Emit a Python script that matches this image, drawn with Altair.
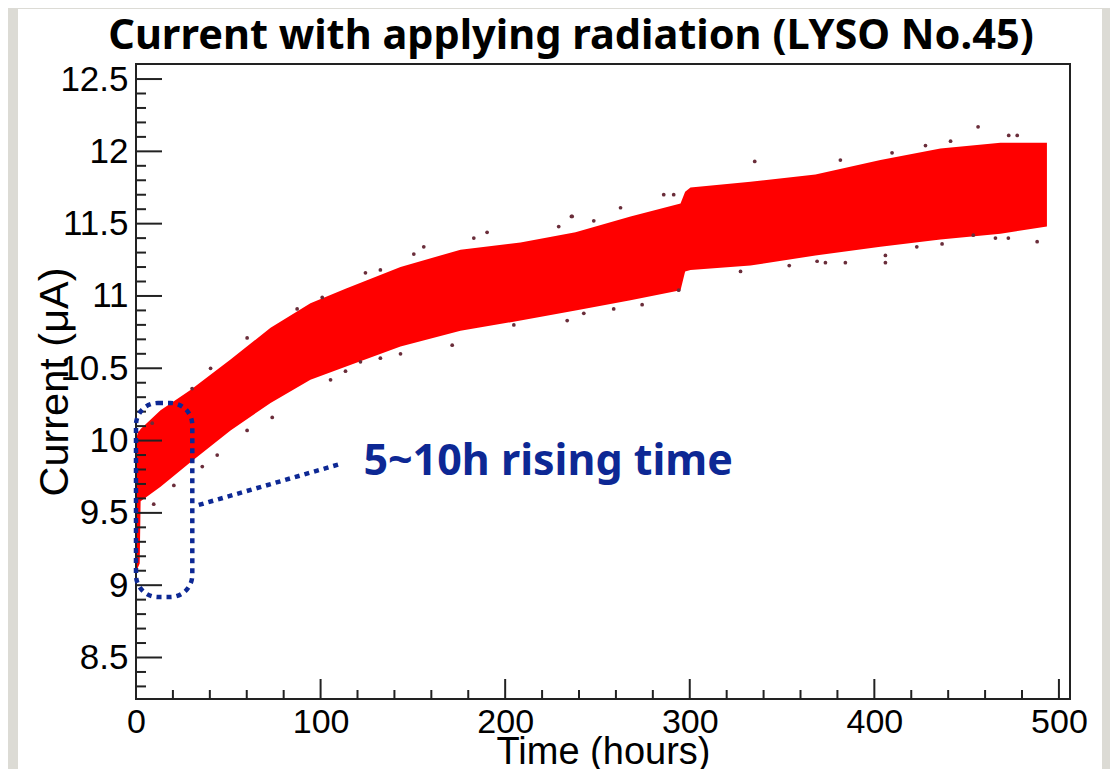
import altair as alt
import pandas as pd

# ---- data ----
band_t = [0.0, 1.0, 2.0, 2.5, 13.3, 29.5, 51.2, 72.9, 94.5, 113.5, 143.3, 175.8, 208.3,
          238.1, 267.9, 295.0, 297.5, 300.4, 332.9, 368.1, 403.3, 435.8, 468.3, 493.5]
band_lo = [9.10, 9.12, 9.15, 9.58, 9.68, 9.85, 10.07, 10.26, 10.42, 10.51, 10.65, 10.76, 10.83,
           10.90, 10.97, 11.04, 11.17, 11.18, 11.21, 11.28, 11.34, 11.39, 11.43, 11.48]
band_hi = [10.00, 10.06, 10.07, 10.08, 10.21, 10.35, 10.56, 10.78, 10.95, 11.05, 11.20, 11.32, 11.37,
           11.44, 11.55, 11.64, 11.72, 11.75, 11.79, 11.84, 11.94, 12.02, 12.06, 12.06]

dot_t = [456.2, 409.6, 427.7, 441.3, 472.8, 477.4, 381.6, 406.0, 406.0, 369.0, 373.5, 384.3,
         423.0, 436.7, 465.6, 472.6, 488.2, 453.6, 335.2, 285.9, 262.5, 236.3, 291.3, 248.0,
         274.2, 242.6, 258.8, 294.0, 327.5, 353.9, 235.9, 190.2, 155.9, 150.5, 124.3, 132.4,
         183.0, 229.0, 171.3, 143.3, 132.4, 121.6, 113.5, 204.7, 233.6, 40.4, 60.2, 100.9,
         87.3, 8.8, 30.4, 9.6, 20.5, 35.9, 44.0, 60.2, 73.8, 105.4]
dot_i = [12.17, 11.99, 12.04, 12.07, 12.11, 12.11, 11.94, 11.23, 11.28, 11.24, 11.23, 11.23,
         11.34, 11.36, 11.40, 11.40, 11.375, 11.42, 11.93, 11.70, 11.61, 11.55, 11.70, 11.52,
         10.94, 10.88, 10.91, 11.04, 11.17, 11.21, 11.55, 11.44, 11.34, 11.29, 11.16, 11.18,
         11.40, 11.48, 10.66, 10.60, 10.57, 10.545, 10.48, 10.80, 10.83, 10.50, 10.71, 10.99,
         10.91, 10.12, 10.36, 9.56, 9.69, 9.82, 9.90, 10.07, 10.16, 10.42]

x_major = [0, 100, 200, 300, 400, 500]
x_minor = [20, 40, 60, 80, 120, 140, 160, 180, 220, 240, 260, 280,
           320, 340, 360, 380, 420, 440, 460, 480]
y_major = [8.5, 9, 9.5, 10, 10.5, 11, 11.5, 12, 12.5]
y_minor = [8.3, 8.4, 8.6, 8.7, 8.8, 8.9, 9.1, 9.2, 9.3, 9.4, 9.6, 9.7, 9.8, 9.9,
           10.1, 10.2, 10.3, 10.4, 10.6, 10.7, 10.8, 10.9, 11.1, 11.2, 11.3, 11.4,
           11.6, 11.7, 11.8, 11.9, 12.1, 12.2, 12.3, 12.4]

title_text = "Current with applying radiation (LYSO No.45)"
x_title = "Time (hours)"
y_title = "Current (\u03bcA)"
note_text = "5~10h rising time"
box = {"t0": 0.0, "t1": 30.5, "i0": 8.918, "i1": 10.26}
leader = {"ta": 34.0, "tb": 111.7, "ia": 9.555, "ib": 9.842}
note_pos = {"t": 123.2, "i": 9.761}

W, H = 934, 635
BLUE = "#0d2894"
GRAY = "#dcdbd5"
xs = alt.Scale(domain=[0, 506], nice=False, zero=False)
ys = alt.Scale(domain=[8.213, 12.604], nice=False, zero=False)

xa = alt.Axis(
    values=x_major, ticks=False, domain=False, grid=False, labelFlush=False,
    labelOverlap=False, labelFont="Liberation Sans", labelFontSize=34,
    labelColor="black", labelPadding=6, title=x_title, titleFont="Liberation Sans",
    titleFontSize=38, titleFontWeight="normal", titleColor="black",
    titleY=64, titleBaseline="alphabetic", zindex=1)
ya = alt.Axis(
    values=y_major, format="~g", ticks=False, domain=False, grid=False,
    labelOverlap=False, labelFont="Liberation Sans", labelFontSize=35,
    labelColor="black", labelPadding=8, title=y_title, titleFont="Liberation Sans",
    titleFontSize=41.5, titleFontWeight="normal", titleColor="black",
    titleX=-69, titleBaseline="alphabetic", zindex=1)


def X(field):
    return alt.X(field, scale=xs, axis=xa)


def Y(field):
    return alt.Y(field, scale=ys, axis=ya)


band = pd.DataFrame({"t": band_t, "lo": band_lo, "hi": band_hi})
dots = pd.DataFrame({"t": dot_t, "i": dot_i})
one = pd.DataFrame({"k": [0]})

# grey page margins around the white sheet
strip_left = alt.Chart(one).mark_rect(color=GRAY).encode(
    x=alt.value(-130), x2=alt.value(-118), y=alt.value(-60), y2=alt.value(720))
strip_right = alt.Chart(one).mark_rect(color=GRAY).encode(
    x=alt.value(966), x2=alt.value(980), y=alt.value(-60), y2=alt.value(720))
strip_top = alt.Chart(one).mark_rect(color=GRAY).encode(
    x=alt.value(-130), x2=alt.value(980), y=alt.value(-60), y2=alt.value(-55))

area = alt.Chart(band).mark_area(color="#ff0000", opacity=1).encode(
    x=X("t:Q"), y=Y("lo:Q"), y2="hi:Q")

pts = alt.Chart(dots).mark_circle(size=14, color="#6a2d3a", opacity=1).encode(
    x=X("t:Q"), y=Y("i:Q"))


def yticks(vals, length):
    return alt.Chart(pd.DataFrame({"v": vals})).mark_rule(color="#222", strokeWidth=2).encode(
        y=Y("v:Q"), x=alt.value(0), x2=alt.value(length))


def xticks(vals, length):
    return alt.Chart(pd.DataFrame({"v": vals})).mark_rule(color="#222", strokeWidth=2).encode(
        x=X("v:Q"), y=alt.value(H), y2=alt.value(H - length))


frame = alt.Chart(one).mark_rect(
    fillOpacity=0, stroke="#222", strokeWidth=2).encode(
    x=alt.value(0), x2=alt.value(W), y=alt.value(0), y2=alt.value(H))

ann_box = alt.Chart(pd.DataFrame([box])).mark_rect(
    cornerRadius=22, fillOpacity=0, stroke=BLUE, strokeWidth=4.5, strokeDash=[5, 5]).encode(
    x=X("t0:Q"), x2="t1:Q", y=Y("i0:Q"), y2="i1:Q")

ann_line = alt.Chart(pd.DataFrame([leader])).mark_rule(
    color=BLUE, strokeWidth=4.5, strokeDash=[5, 5]).encode(
    x=X("ta:Q"), x2="tb:Q", y=Y("ia:Q"), y2="ib:Q")

ann_text = alt.Chart(pd.DataFrame([{**note_pos, "label": note_text}])).mark_text(
    font="Noto Sans", fontWeight="bold", fontSize=43, color=BLUE,
    align="left", baseline="alphabetic").encode(
    x=X("t:Q"), y=Y("i:Q"), text="label:N")

title = alt.Chart(pd.DataFrame({"label": [title_text]})).mark_text(
    font="Noto Sans", fontWeight="bold", fontSize=41.5, color="black",
    align="center", baseline="alphabetic").encode(
    x=alt.value(435), y=alt.value(-15.5), text="label:N")

chart = alt.layer(
    strip_left, strip_right, strip_top, area, pts,
    yticks(y_major, 26), yticks(y_minor, 10),
    xticks(x_major, 20), xticks(x_minor, 9),
    frame, ann_box, ann_line, ann_text, title,
).properties(
    width=W, height=H,
    padding={"left": 128, "top": 56, "right": 40, "bottom": 70},
    autosize=alt.AutoSizeParams(type="none"),
    background="white",
).configure_view(stroke="transparent")

chart.save("out.html", embed_options={"renderer": "svg", "actions": False})
